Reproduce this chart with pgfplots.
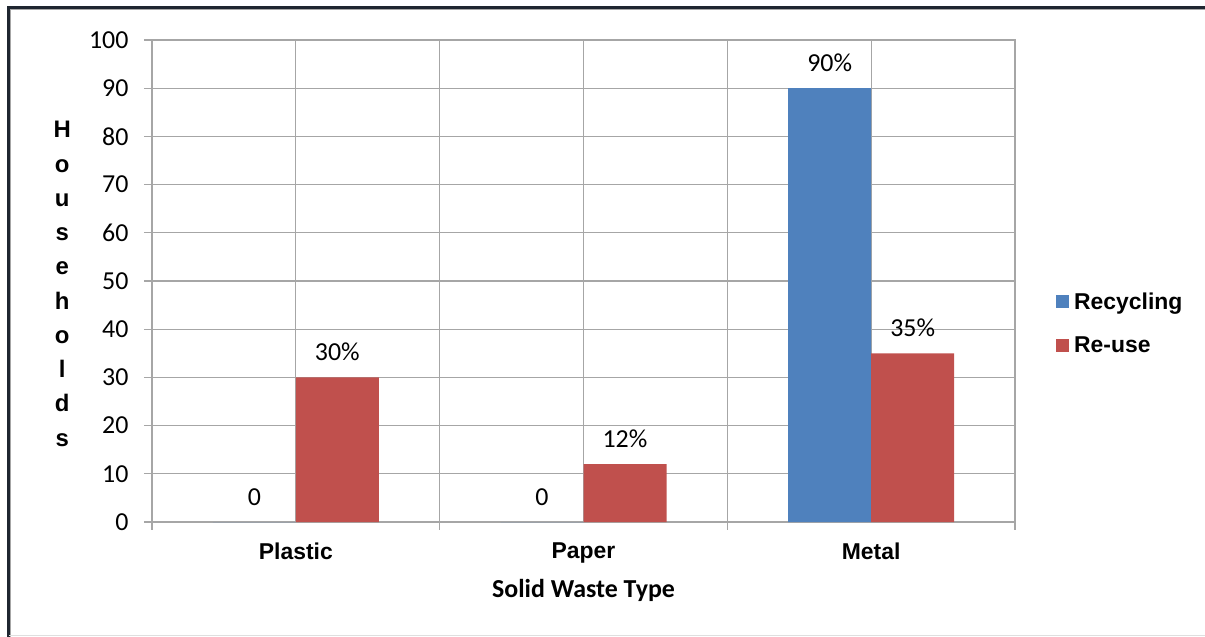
\documentclass[border=0pt]{standalone}
\usepackage{pgfplots}
\pgfplotsset{compat=1.18}
\usepackage{pgfplotstable}
\usepackage{fontspec}
\setmainfont{Carlito}
\newfontfamily\arialb{Liberation Sans}[BoldFont={* Bold}]

\definecolor{recblue}{HTML}{4F81BD}
\definecolor{reusered}{HTML}{C0504D}
\definecolor{gridgray}{HTML}{A6A6A6}
\definecolor{framedark}{HTML}{1F2630}

% households practising each method, by waste type
\pgfplotstableread{
x y lab
1 0 0
2 0 0
3 90 90\%
}\recycling
\pgfplotstableread{
x y lab
1 30 30\%
2 12 12\%
3 35 35\%
}\reuse

\begin{document}
\begin{tikzpicture}
\useasboundingbox (-152bp,-115bp) rectangle (1053bp,522bp);
% outer frame
\draw[line width=3bp, framedark] (-143.5bp,-115bp) -- (-143.5bp,514bp) -- (1053bp,514bp);
\draw[line width=1bp, gray!70] (-141.5bp,-115bp) -- (-141.5bp,512bp) -- (1053bp,512bp);
\draw[line width=1.2bp, gray!25] (-143bp,-113.5bp) -- (1053bp,-113.5bp);

\begin{axis}[
  at={(0,0)}, anchor=south west,
  scale only axis, width=863bp, height=482bp,
  xmin=0.5, xmax=3.5, ymin=0, ymax=100,
  ytick={0,10,...,100},
  xtick={1,2,3},
  xticklabels={Plastic,Paper,Metal},
  x tick label style={font=\arialb\bfseries\fontsize{23}{27}\selectfont, yshift=-9bp},
  y tick label style={font=\fontsize{26}{30}\selectfont, xshift=-12bp},
  /pgf/number format/assume math mode=true,
  xmajorgrids, ymajorgrids,
  grid style={gridgray, line width=1.3bp},
  axis line style={gridgray, line width=1.3bp},
  major tick style={gridgray, line width=1.3bp},
  major x tick style={draw=none},
  ytick align=outside, ytick pos=left,
  major tick length=8bp,
  extra x ticks={0.5,1.5,2.5,3.5},
  extra x tick labels={},
  extra x tick style={grid=major, major tick length=8bp, tick align=outside, tick pos=bottom,
    major x tick style={draw=gridgray, line width=1.3bp}},
  xlabel={\bfseries Solid Waste Type},
  xlabel style={font=\fontsize{26}{30}\selectfont, yshift=7bp},
  ylabel={H\\o\\u\\s\\e\\h\\o\\l\\d\\s},
  ylabel style={rotate=-90, align=center,
    font=\arialb\bfseries\fontsize{24}{34.4}\selectfont,
    at={(axis description cs:-0.104,0.494)}, anchor=center},
  ybar=0pt, bar width=83bp,
  point meta=explicit symbolic,
  nodes near coords,
  nodes near coords style={font=\fontsize{26}{30}\selectfont, yshift=13bp},
  legend style={at={(1.044,0.412)}, anchor=west, draw=none, fill=none,
    font=\arialb\bfseries\fontsize{23}{27}\selectfont, row sep=22bp,
    /tikz/every even column/.append style={column sep=0bp}},
  legend cell align=left,
  legend image code/.code={\fill[#1] (0bp,-6.5bp) rectangle (13bp,6.5bp);},
  legend style={nodes={inner xsep=5bp}},
]
\addplot[fill=recblue, draw=none] table[x=x, y=y, meta=lab] {\recycling};
\addplot[fill=reusered, draw=none] table[x=x, y=y, meta=lab] {\reuse};
\legend{Recycling, Re-use}
\end{axis}
\end{tikzpicture}
\end{document}
